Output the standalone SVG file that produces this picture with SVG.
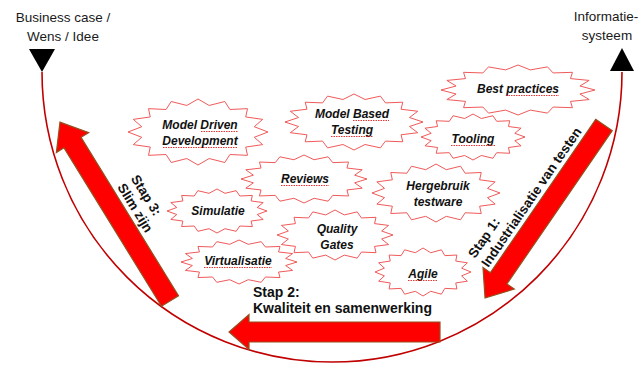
<svg xmlns="http://www.w3.org/2000/svg" xmlns:xlink="http://www.w3.org/1999/xlink" width="642" height="368" viewBox="0 0 642 368">
<style>
.hdr{font-family:"Liberation Sans",Arial,sans-serif;font-size:13.5px;fill:#1a1a1a;text-anchor:middle}
.lbl{font-family:"Liberation Sans",Arial,sans-serif;font-size:12px;font-weight:bold;font-style:italic;fill:#111;text-anchor:middle}
.stap{font-family:"Liberation Sans",Arial,sans-serif;font-size:13.5px;font-weight:bold;fill:#111}
.star{fill:#fff;stroke:#f05a5a;stroke-width:1;vector-effect:non-scaling-stroke}
.arrow{fill:#ff0000;stroke:#94501e;stroke-width:1.2;stroke-linejoin:miter}
.spell{stroke:#e02020;stroke-width:0.9;stroke-dasharray:1.5 1;fill:none}
</style>
<defs>
<path id="starShape" class="star" d="M100,0 L80.4,16 92.4,38.3 68.2,45.6 70.7,70.7 45.6,68.2 38.3,92.4 16,80.4 0,100 -16,80.4 -38.3,92.4 -45.6,68.2 -70.7,70.7 -68.2,45.6 -92.4,38.3 -80.4,16 -100,0 -80.4,-16 -92.4,-38.3 -68.2,-45.6 -70.7,-70.7 -45.6,-68.2 -38.3,-92.4 -16,-80.4 0,-100 16,-80.4 38.3,-92.4 45.6,-68.2 70.7,-70.7 68.2,-45.6 92.4,-38.3 80.4,-16 Z"/>
</defs>

<g id="connectors">
<path d="M42,72 A290,290 0 0 0 622,72" fill="none" stroke="#c00000" stroke-width="1.6"/>
</g>

<g id="start">
<polygon points="29,49 55,49 42,72" fill="#000"/>
<text class="hdr" x="63" y="22">Business case /</text>
<text class="hdr" x="63" y="41">Wens / Idee</text>
</g>
<g id="end">
<polygon points="622,48 610,71 634,71" fill="#000"/>
<text class="hdr" x="606" y="21">Informatie-</text>
<text class="hdr" x="607" y="40">systeem</text>
</g>

<g id="mdd">
<use xlink:href="#starShape" href="#starShape" transform="translate(198,132) scale(0.70,0.33)"/>
<text class="lbl" x="200" y="129">Model Driven</text>
<text class="lbl" x="200" y="145">Development</text>
<line class="spell" x1="201" y1="131.5" x2="238" y2="131.5"/>
<line class="spell" x1="163" y1="147.5" x2="238" y2="147.5"/>
</g>
<g id="mbt">
<use xlink:href="#starShape" href="#starShape" transform="translate(354,122) scale(0.69,0.28)"/>
<text class="lbl" x="352" y="118">Model Based</text>
<text class="lbl" x="352" y="134">Testing</text>
<line class="spell" x1="353" y1="120.5" x2="389" y2="120.5"/>
<line class="spell" x1="331" y1="136.5" x2="373" y2="136.5"/>
</g>
<g id="best">
<use xlink:href="#starShape" href="#starShape" transform="translate(518,90) scale(0.77,0.25)"/>
<text class="lbl" x="518" y="93">Best practices</text>
<line class="spell" x1="506" y1="95.5" x2="559" y2="95.5"/>
</g>
<g id="tooling">
<use xlink:href="#starShape" href="#starShape" transform="translate(473,137) scale(0.52,0.23)"/>
<text class="lbl" x="473" y="143">Tooling</text>
<line class="spell" x1="451" y1="145.5" x2="495" y2="145.5"/>
</g>
<g id="reviews">
<use xlink:href="#starShape" href="#starShape" transform="translate(304,179) scale(0.63,0.24)"/>
<text class="lbl" x="305" y="183">Reviews</text>
<line class="spell" x1="281" y1="185.5" x2="329" y2="185.5"/>
</g>
<g id="simulatie">
<use xlink:href="#starShape" href="#starShape" transform="translate(217,211) scale(0.50,0.22)"/>
<text class="lbl" x="218" y="215">Simulatie</text>
</g>
<g id="quality">
<use xlink:href="#starShape" href="#starShape" transform="translate(335,235) scale(0.58,0.25)"/>
<text class="lbl" x="337" y="233">Quality</text>
<text class="lbl" x="337" y="249">Gates</text>
</g>
<g id="virtualisatie">
<use xlink:href="#starShape" href="#starShape" transform="translate(239,262) scale(0.58,0.22)"/>
<text class="lbl" x="238" y="265">Virtualisatie</text>
<line class="spell" x1="204" y1="267.5" x2="272" y2="267.5"/>
</g>
<g id="hergebruik">
<use xlink:href="#starShape" href="#starShape" transform="translate(436,193) scale(0.64,0.29)"/>
<text class="lbl" x="438" y="190">Hergebruik</text>
<text class="lbl" x="438" y="206">testware</text>
</g>
<g id="agile">
<use xlink:href="#starShape" href="#starShape" transform="translate(423,272) scale(0.48,0.24)"/>
<text class="lbl" x="423" y="278">Agile</text>
<line class="spell" x1="408" y1="280.5" x2="438" y2="280.5"/>
</g>

<g id="stap1">
<polygon class="arrow" points="0,-10 186,-10 186,-19 210,0 186,19 186,10 0,10" transform="translate(604,125) rotate(124.5)"/>
<g transform="translate(475,259) rotate(-55.5)">
<text class="stap" x="0" y="0">Stap 1:</text>
<text class="stap" x="0" y="16">Industrialisatie van testen</text>
</g>
</g>
<g id="stap2">
<polygon class="arrow" points="440,322 249,322 249,314.5 229,332 249,349.5 249,342 440,342"/>
<text class="stap" x="253" y="297" style="font-size:14px">Stap 2:</text>
<text class="stap" x="253" y="313" style="font-size:14px">Kwaliteit en samenwerking</text>
</g>
<g id="stap3">
<polygon class="arrow" points="0,-10 186,-10 186,-19 210,0 186,19 186,10 0,10" transform="translate(170,301) rotate(-121.6)"/>
<g transform="translate(130.6,178.6) rotate(58.4)">
<text class="stap" x="0" y="0">Stap 3:</text>
<text class="stap" x="0" y="16">Slim zijn</text>
</g>
</g>
</svg>
